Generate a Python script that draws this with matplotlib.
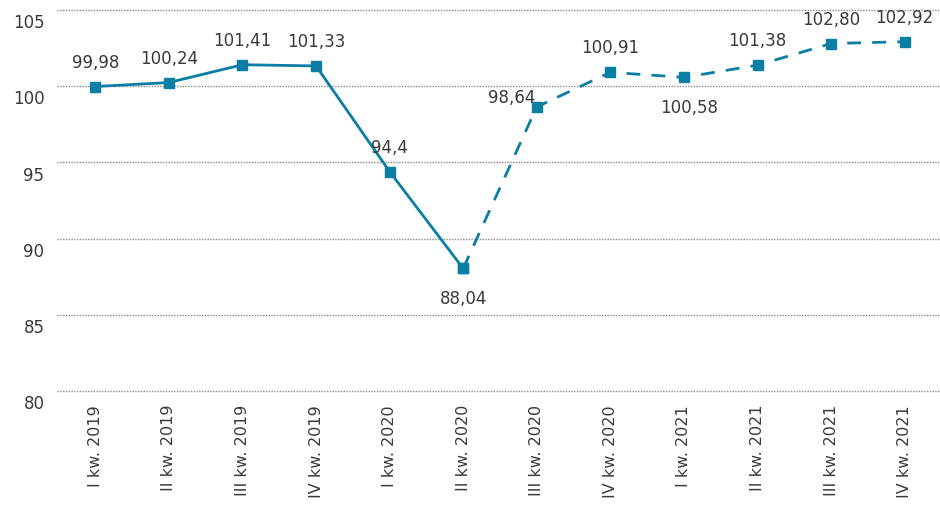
import matplotlib
matplotlib.use("Agg")
import matplotlib.pyplot as plt
from matplotlib.transforms import ScaledTranslation

kwartaly = ["I kw. 2019", "II kw. 2019", "III kw. 2019", "IV kw. 2019",
            "I kw. 2020", "II kw. 2020", "III kw. 2020", "IV kw. 2020",
            "I kw. 2021", "II kw. 2021", "III kw. 2021", "IV kw. 2021"]
wartosci = [99.98, 100.24, 101.41, 101.33, 94.4, 88.04,
            98.64, 100.91, 100.58, 101.38, 102.80, 102.92]
etykiety = ["99,98", "100,24", "101,41", "101,33", "94,4", "88,04",
            "98,64", "100,91", "100,58", "101,38", "102,80", "102,92"]
# ostatni punkt danych rzeczywistych (dalej prognoza - linia przerywana)
granica = 5

kolor = "#0b7ea6"
tekst = "#3a3a3a"

plt.rcParams["font.family"] = ["DejaVu Sans"]

fig = plt.figure(figsize=(9.4, 5.13), dpi=100)
ax = fig.add_axes([57 / 940, 1 - 391 / 513, 883 / 940, 381 / 513])

x = list(range(len(kwartaly)))
ax.plot(x[:granica + 1], wartosci[:granica + 1], color=kolor, lw=2,
        marker="s", ms=6.5, zorder=3)
ax.plot(x[granica:], wartosci[granica:], color=kolor, lw=2, ls=(0, (5, 4)),
        marker="s", ms=6.5, zorder=3)

# przesuniecia etykiet (px): dx, dy
przes = {5: (0, -22), 8: (5, -22), 6: (-25, 0)}
for i, (v, lab) in enumerate(zip(wartosci, etykiety)):
    dx, dy = przes.get(i, (0, 15))
    ax.annotate(lab, (i, v), xytext=(dx, dy), textcoords="offset pixels",
                ha="center", va="bottom" if dy >= 0 else "top",
                fontsize=12, color=tekst)

ax.set_ylim(80, 105)
ax.set_xlim(-0.52, 11.48)
ax.set_yticks([80, 85, 90, 95, 100, 105])
ax.set_xticks(x)
ax.set_xticklabels(kwartaly, rotation=90, fontsize=11.5, color=tekst)
ax.tick_params(axis="y", labelsize=12, labelcolor=tekst, length=0, pad=9)
ax.tick_params(axis="x", length=0, pad=10)
for lab in ax.get_yticklabels():
    lab.set_transform(lab.get_transform() + ScaledTranslation(0, -8 / 72, fig.dpi_scale_trans))

ax.grid(axis="y", color="#8a8a8a", ls=(0, (1, 1)), lw=1)
for gl in ax.get_ygridlines():
    gl.set_clip_on(False)
ax.set_axisbelow(True)
for s in ax.spines.values():
    s.set_visible(False)

fig.savefig("out.png", dpi=100)
